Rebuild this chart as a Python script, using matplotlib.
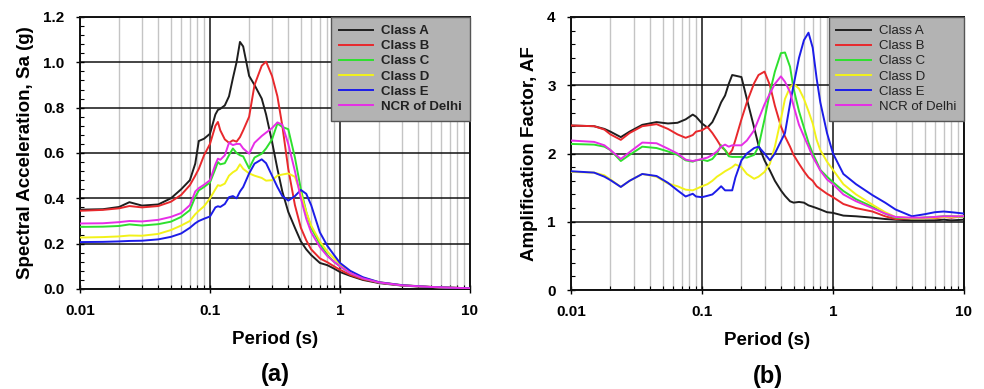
import matplotlib
matplotlib.use("Agg")
import matplotlib.pyplot as plt
from matplotlib.ticker import FixedLocator, NullFormatter, MultipleLocator, FixedFormatter

plt.rcParams['font.family'] = ['Liberation Sans', 'DejaVu Sans']

# ---------------- Panel (a): Spectral acceleration ----------------
period_a = [0.01, 0.015, 0.02, 0.024, 0.03, 0.04, 0.05, 0.06, 0.07, 0.077, 0.082, 0.09, 0.1,
            0.11, 0.115, 0.12, 0.13, 0.14, 0.15, 0.16, 0.17, 0.18, 0.2, 0.22, 0.25, 0.27, 0.3,
            0.33, 0.36, 0.4, 0.45, 0.5, 0.55, 0.6, 0.7, 0.8, 0.9, 1.0, 1.2, 1.5, 2, 3, 5, 7, 10]

sa_class_a = [0.350, 0.352, 0.362, 0.383, 0.368, 0.373, 0.400, 0.440, 0.480, 0.553, 0.653, 0.663, 0.685,
              0.77, 0.79, 0.795, 0.81, 0.85, 0.93, 1.00, 1.09, 1.07, 0.94, 0.90, 0.84, 0.77, 0.65,
              0.53, 0.43, 0.34, 0.27, 0.21, 0.175, 0.15, 0.115, 0.105, 0.09, 0.075, 0.058, 0.04, 0.026,
              0.015, 0.008, 0.005, 0.003]
sa_class_b = [0.345, 0.349, 0.356, 0.366, 0.36, 0.366, 0.385, 0.415, 0.458, 0.50, 0.53, 0.59, 0.64,
              0.72, 0.737, 0.70, 0.66, 0.645, 0.656, 0.65, 0.67, 0.70, 0.76, 0.90, 0.985, 1.003, 0.94,
              0.85, 0.72, 0.53, 0.37, 0.27, 0.215, 0.175, 0.135, 0.118, 0.10, 0.085, 0.062, 0.043, 0.028,
              0.016, 0.009, 0.006, 0.003]
sa_class_c = [0.274, 0.275, 0.278, 0.285, 0.28, 0.286, 0.297, 0.318, 0.348, 0.406, 0.435, 0.45, 0.47,
              0.53, 0.56, 0.55, 0.555, 0.59, 0.62, 0.60, 0.59, 0.585, 0.532, 0.58, 0.597, 0.62, 0.66,
              0.73, 0.715, 0.705, 0.58, 0.44, 0.34, 0.27, 0.20, 0.15, 0.12, 0.10, 0.07, 0.047, 0.029,
              0.016, 0.009, 0.006, 0.003]
sa_class_d = [0.227, 0.229, 0.232, 0.236, 0.235, 0.243, 0.26, 0.28, 0.30, 0.33, 0.345, 0.365, 0.40,
              0.44, 0.458, 0.455, 0.465, 0.50, 0.515, 0.525, 0.55, 0.53, 0.51, 0.50, 0.49, 0.478, 0.48,
              0.50, 0.505, 0.51, 0.495, 0.42, 0.34, 0.28, 0.21, 0.165, 0.135, 0.11, 0.075, 0.05, 0.03,
              0.017, 0.009, 0.006, 0.003]
sa_class_e = [0.207, 0.208, 0.21, 0.212, 0.213, 0.219, 0.23, 0.245, 0.27, 0.29, 0.30, 0.31, 0.32,
              0.36, 0.365, 0.362, 0.375, 0.405, 0.41, 0.40, 0.43, 0.45, 0.51, 0.553, 0.572, 0.555, 0.50,
              0.45, 0.41, 0.39, 0.41, 0.437, 0.42, 0.37, 0.25, 0.19, 0.15, 0.115, 0.08, 0.052, 0.03,
              0.017, 0.009, 0.006, 0.003]
sa_ncr = [0.289, 0.29, 0.295, 0.30, 0.298, 0.305, 0.318, 0.335, 0.37, 0.43, 0.445, 0.46, 0.48,
          0.55, 0.575, 0.57, 0.59, 0.645, 0.635, 0.64, 0.64, 0.62, 0.597, 0.645, 0.675, 0.69, 0.71,
          0.735, 0.725, 0.64, 0.52, 0.40, 0.31, 0.25, 0.185, 0.145, 0.12, 0.10, 0.07, 0.047, 0.029,
          0.016, 0.009, 0.006, 0.003]

# ---------------- Panel (b): Amplification factor ----------------
period_b = [0.01, 0.015, 0.018, 0.02, 0.024, 0.028, 0.035, 0.045, 0.055, 0.065, 0.075, 0.085, 0.09,
            0.1, 0.11, 0.12, 0.13, 0.14, 0.15, 0.16, 0.17, 0.18, 0.2, 0.22, 0.25, 0.27, 0.3, 0.33,
            0.36, 0.4, 0.43, 0.47, 0.5, 0.55, 0.6, 0.65, 0.7, 0.75, 0.8, 0.9, 1.0, 1.2, 1.5, 2, 2.5,
            3, 4, 5, 6, 7, 8, 10]

af_class_a = [2.41, 2.40, 2.36, 2.32, 2.24, 2.32, 2.42, 2.46, 2.44, 2.45, 2.50, 2.57, 2.54,
              2.44, 2.38, 2.46, 2.60, 2.75, 2.85, 3.02, 3.15, 3.14, 3.12, 2.80, 2.38, 2.12, 1.90, 1.75,
              1.60, 1.46, 1.38, 1.30, 1.28, 1.29, 1.28, 1.24, 1.22, 1.20, 1.18, 1.14, 1.13, 1.09, 1.08, 1.06, 1.04,
              1.03, 1.02, 1.02, 1.02, 1.03, 1.02, 1.03]
af_class_b = [2.41, 2.40, 2.35, 2.28, 2.20, 2.30, 2.40, 2.43, 2.36, 2.28, 2.23, 2.27, 2.32,
              2.34, 2.39, 2.30, 2.20, 2.10, 2.05, 1.98, 2.05, 2.20, 2.50, 2.75, 3.03, 3.15, 3.20, 3.00,
              2.70, 2.40, 2.25, 2.10, 1.98, 1.85, 1.74, 1.65, 1.60, 1.52, 1.48, 1.41, 1.36, 1.26, 1.20, 1.15, 1.08,
              1.04, 1.05, 1.06, 1.05, 1.07, 1.06, 1.08]
af_class_c = [2.14, 2.13, 2.10, 2.05, 1.89, 1.98, 2.10, 2.08, 2.03, 1.98, 1.90, 1.88, 1.90,
              1.91, 1.89, 1.92, 2.00, 2.12, 2.05, 1.96, 1.95, 1.95, 1.95, 1.94, 1.98, 2.10, 2.50, 2.90,
              3.20, 3.47, 3.48, 3.27, 2.95, 2.62, 2.38, 2.16, 2.00, 1.88, 1.76, 1.66, 1.58, 1.45, 1.33, 1.22, 1.12,
              1.06, 1.05, 1.06, 1.07, 1.08, 1.08, 1.07]
af_class_d = [1.73, 1.72, 1.68, 1.62, 1.51, 1.60, 1.70, 1.66, 1.56, 1.52, 1.47, 1.46, 1.48,
              1.52, 1.55, 1.60, 1.66, 1.70, 1.74, 1.77, 1.80, 1.84, 1.80, 1.70, 1.63, 1.66, 1.73, 1.85,
              2.10, 2.50, 2.80, 2.97, 3.02, 2.95, 2.80, 2.62, 2.44, 2.20, 2.05, 1.88, 1.76, 1.55, 1.40, 1.25, 1.14,
              1.07, 1.05, 1.05, 1.06, 1.07, 1.07, 1.08]
af_class_e = [1.74, 1.72, 1.66, 1.61, 1.51, 1.60, 1.70, 1.67, 1.57, 1.46, 1.37, 1.41, 1.37,
              1.36, 1.38, 1.40, 1.46, 1.52, 1.46, 1.46, 1.46, 1.65, 1.90, 2.00, 2.08, 2.10, 2.00, 1.90,
              2.00, 2.18, 2.30, 2.73, 3.00, 3.40, 3.66, 3.77, 3.55, 3.10, 2.75, 2.30, 2.00, 1.70, 1.55, 1.39, 1.28,
              1.18, 1.08, 1.11, 1.14, 1.15, 1.14, 1.12]
af_ncr = [2.19, 2.17, 2.12, 2.05, 1.92, 2.02, 2.16, 2.15, 2.07, 2.00, 1.91, 1.89, 1.90,
          1.92, 1.94, 1.98, 2.03, 2.10, 2.13, 2.10, 2.12, 2.12, 2.12, 2.19, 2.34, 2.50, 2.72, 2.88,
          3.02, 3.13, 3.05, 2.90, 2.70, 2.42, 2.25, 2.10, 1.95, 1.85, 1.75, 1.62, 1.55, 1.40, 1.30, 1.20, 1.12,
          1.07, 1.06, 1.06, 1.07, 1.08, 1.08, 1.08]

series_names = ["Class A", "Class B", "Class C", "Class D", "Class E", "NCR of Delhi"]
series_colors = ["#1e1e1e", "#e8282c", "#2ee02e", "#f2f21a", "#1c1ce8", "#e62ee6"]

x_ticks = [0.01, 0.1, 1, 10]
x_tick_labels = ["0.01", "0.1", "1", "10"]
minor_x = [m * d for d in [0.01, 0.1, 1] for m in range(2, 10)]

fig = plt.figure(figsize=(9.84, 3.89), dpi=100)
ax1 = fig.add_axes([80 / 984, 1 - 289 / 389, 390 / 984, 272 / 389])
ax2 = fig.add_axes([571 / 984, 1 - 290 / 389, 393 / 984, 273 / 389])


def style_axis(ax, ymax, ystep, yminor, ylabel, yfmt, legend_bold, panel):
    ax.set_xscale('log')
    ax.set_xlim(0.01, 10)
    ax.set_ylim(0, ymax)
    ax.xaxis.set_major_locator(FixedLocator(x_ticks))
    ax.xaxis.set_major_formatter(FixedFormatter(x_tick_labels))
    ax.xaxis.set_minor_locator(FixedLocator(minor_x))
    ax.xaxis.set_minor_formatter(NullFormatter())
    ax.yaxis.set_major_locator(MultipleLocator(ystep))
    ax.yaxis.set_minor_locator(MultipleLocator(yminor))
    ax.yaxis.set_major_formatter(plt.FuncFormatter(lambda v, p: yfmt.format(v)))
    ax.grid(which='minor', axis='x', color='#c4c4c4', linewidth=1.0, zorder=0)
    ax.grid(which='major', axis='both', color='#111111', linewidth=1.1, zorder=0.5)
    ax.set_axisbelow(True)
    ax.tick_params(which='major', direction='inout', length=6, width=1.0, labelsize=11, pad=8)
    ax.tick_params(which='minor', direction='in', length=3, width=0.8)
    for lab in ax.get_xticklabels() + ax.get_yticklabels():
        lab.set_fontweight('bold')
    for sp in ax.spines.values():
        sp.set_linewidth(1.4)
        sp.set_color('#111111')
    ax.set_xlabel("Period (s)", fontsize=13.5, fontweight='bold', labelpad=9)
    ax.set_ylabel(ylabel, fontsize=13.5, fontweight='bold', labelpad=7)
    leg = ax.legend(loc='upper right', borderaxespad=0, frameon=True, fancybox=False,
                    handlelength=2.6, handletextpad=0.6, labelspacing=0.22,
                    borderpad=0.6,
                    prop={'weight': 'bold' if legend_bold else 'normal', 'size': 9.5})
    leg.get_frame().set_facecolor('#b3b3b3')
    leg.get_frame().set_edgecolor('#555555')
    leg.get_frame().set_alpha(1)
    leg.get_frame().set_linewidth(1.0)
    for t in leg.get_texts():
        t.set_color('#222222')
    ax.text(0.5, -0.316, panel, transform=ax.transAxes, ha='center', va='center',
            fontsize=17, fontweight='bold')


sa_data = [sa_class_a, sa_class_b, sa_class_c, sa_class_d, sa_class_e, sa_ncr]
af_data = [af_class_a, af_class_b, af_class_c, af_class_d, af_class_e, af_ncr]

for vals, name, col in zip(sa_data, series_names, series_colors):
    ax1.plot(period_a, vals, color=col, linewidth=1.4, label=name, zorder=3)
for vals, name, col in zip(af_data, series_names, series_colors):
    ax2.plot(period_b, vals, color=col, linewidth=1.4, label=name, zorder=3)

style_axis(ax1, 1.2, 0.2, 0.04, "Spectral Acceleration, Sa (g)", "{:.1f}", True, "(a)")
style_axis(ax2, 4, 1, 0.2, "Amplification Factor, AF", "{:.0f}", False, "(b)")

fig.savefig("out.png", dpi=100)
